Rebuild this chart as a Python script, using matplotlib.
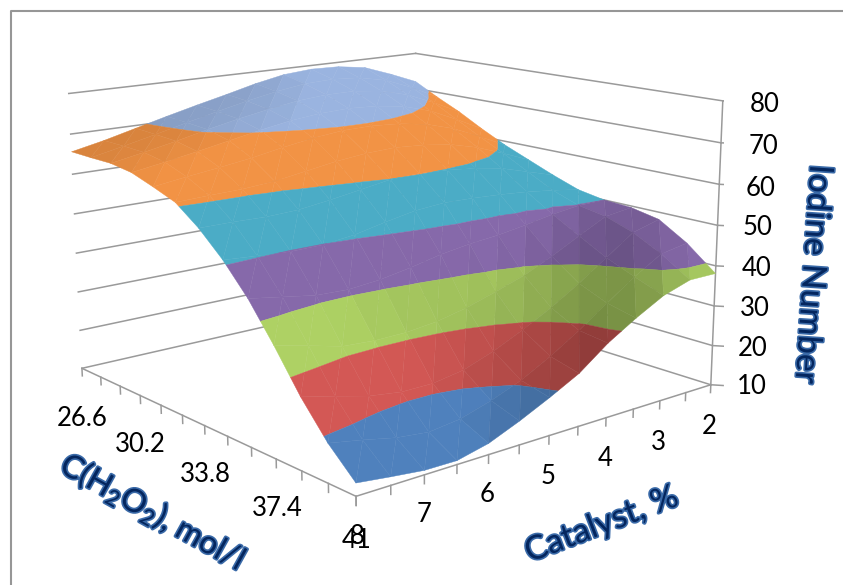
import numpy as np
import matplotlib
matplotlib.use('Agg')
import matplotlib.pyplot as plt
import matplotlib.patheffects as pe
from matplotlib.lines import Line2D
from mpl_toolkits.mplot3d.art3d import Poly3DCollection

plt.rcParams['font.family'] = ['Lato', 'DejaVu Sans']
plt.rcParams['mathtext.fontset'] = 'custom'
plt.rcParams['mathtext.rm'] = 'Lato'
plt.rcParams['mathtext.default'] = 'regular'

W, H = 843, 585

catalyst = [2, 2.5, 3, 3.5, 4, 4.5, 5, 5.5, 6, 6.5, 7, 7.5, 8]
c_h2o2 = [26.6, 27.8, 29.0, 30.2, 31.4, 32.6, 33.8, 35.0, 36.2, 37.4, 38.6, 39.8, 41.0]
# one row per catalyst value
iodine = [
    [72.0, 68.7, 65.7, 62.2, 59.0, 56.3, 53.6, 51.2, 50.0, 49.6, 48.2, 43.9, 38.1],
    [75.0, 72.3, 69.2, 65.8, 62.4, 59.2, 55.7, 52.3, 49.9, 48.7, 46.3, 42.7, 38.1],
    [77.7, 75.2, 72.3, 69.1, 65.6, 61.9, 57.8, 53.2, 49.0, 45.2, 41.5, 38.6, 35.9],
    [78.8, 76.8, 74.3, 71.3, 67.8, 63.8, 59.1, 53.8, 47.7, 41.6, 36.7, 33.8, 32.2],
    [79.0, 77.3, 75.2, 72.4, 69.0, 64.8, 59.8, 54.2, 46.6, 38.4, 32.4, 28.9, 28.0],
    [78.4, 77.0, 75.2, 72.8, 69.5, 65.3, 60.2, 54.4, 45.9, 36.0, 28.7, 24.5, 22.7],
    [76.9, 75.9, 74.6, 72.5, 69.4, 65.0, 59.9, 53.8, 44.8, 33.8, 25.4, 20.7, 19.0],
    [75.0, 74.4, 73.4, 71.7, 68.6, 64.2, 58.7, 52.4, 43.2, 32.2, 22.8, 17.9, 15.6],
    [73.2, 72.7, 72.0, 70.4, 67.4, 63.0, 57.5, 50.8, 41.9, 31.4, 21.6, 15.7, 12.6],
    [71.3, 70.9, 70.4, 68.9, 66.0, 61.8, 56.5, 49.9, 41.2, 31.3, 21.6, 14.8, 10.9],
    [69.3, 69.0, 68.6, 67.4, 64.9, 61.2, 56.2, 49.8, 41.5, 31.8, 22.7, 15.7, 11.0],
    [67.3, 67.2, 67.0, 66.0, 63.9, 61.0, 56.4, 50.3, 42.8, 33.8, 24.7, 17.4, 11.9],
    [65.6, 65.5, 65.5, 64.7, 62.8, 60.7, 56.4, 50.9, 44.1, 35.7, 26.6, 18.9, 12.9],
]
z_levels = [10, 20, 30, 40, 50, 60, 70, 80]
band_colors = ['#4f81bd', '#c0504d', '#9bbb59', '#8064a2', '#4bacc6', '#f79646', '#9ab4e0']
band_caps = [1.0, 1.1, 1.12, 1.05, 1.0, 0.98, 1.0]

z_ticks = [10, 20, 30, 40, 50, 60, 70, 80]
cat_ticks = [2, 3, 4, 5, 6, 7, 8]
c_ticks = ['26.6', '30.2', '33.8', '37.4', '41']


def clip_poly(poly, lo, hi):
    # cut a triangle to the part between two z levels
    for level, sign in ((lo, 1), (hi, -1)):
        out = []
        for i in range(len(poly)):
            a, b = poly[i], poly[(i + 1) % len(poly)]
            da, db = sign * (a[2] - level), sign * (b[2] - level)
            if da >= 0:
                out.append(a)
            if da * db < 0:
                out.append(a + (b - a) * da / (da - db))
        poly = out
        if not poly:
            break
    return poly


fig = plt.figure(figsize=(W / 100, H / 100), dpi=100)
fig.patch.set_facecolor('white')
ax = fig.add_subplot(projection='3d', computed_zorder=False)
ax.set_position([39.1 / W, -6.0 / H, 684.5 / W, 684.5 / H])
ax.set_xlim(2, 8)
ax.set_ylim(26.6, 41)
ax.set_zlim(10, 80)
ax.set_proj_type('persp', focal_length=0.4694)
ax.view_init(elev=13.7362, azim=50.3795, roll=0.2144)
ax.set_box_aspect((1.1307, 1.1331, 0.7145))
ax.set_axis_off()

grid_c = '#9a9a9a'
for z in z_ticks:
    ax.plot([8, 2], [26.6, 26.6], [z, z], color=grid_c, lw=1.1, zorder=1)
    ax.plot([2, 2], [26.6, 41], [z, z], color=grid_c, lw=1.1, zorder=1)
    ax.plot([2, 1.9], [41, 41.3], [z, z], color=grid_c, lw=1.1, zorder=1)
ax.plot([2, 2], [41, 41], [10, 80], color=grid_c, lw=1.1, zorder=1)
ax.plot([8, 8], [26.6, 41], [10, 10], color=grid_c, lw=1.1, zorder=1)
ax.plot([8, 2], [41, 41], [10, 10], color=grid_c, lw=1.1, zorder=1)
for k in c_h2o2:
    ax.plot([8, 8], [k, k], [10, 8], color=grid_c, lw=1.1, zorder=1)
for c in catalyst:
    ax.plot([c, c], [41, 41], [10, 8], color=grid_c, lw=1.1, zorder=1)

Z = np.array(iodine)
light = np.array([-0.6, 0.5, 0.62])
scale = np.array([1.1307 / 6, 1.1331 / 14.4, 0.7145 / 70])

# smooth shade from the slopes at the grid nodes, a little facet contrast on top
dz_cat, dz_c = np.gradient(Z * scale[2], np.array(catalyst) * scale[0], np.array(c_h2o2) * scale[1])
normals = np.dstack([-dz_cat, -dz_c, np.ones_like(Z)])
normals /= np.linalg.norm(normals, axis=2, keepdims=True)
node_shade = 0.5 + 0.75 * normals.dot(light)

polys, faces = [], []
for i in range(len(catalyst) - 1):
    for j in range(len(c_h2o2) - 1):
        idx = ((0, 0), (1, 0), (1, 1), (0, 1))
        p = [np.array([catalyst[i + a], c_h2o2[j + b], Z[i + a, j + b]]) for a, b in idx]
        sh = [node_shade[i + a, j + b] for a, b in idx]
        for tri, tri_sh in (([p[0], p[1], p[2]], sh[:3]), ([p[0], p[2], p[3]], [sh[0], sh[2], sh[3]])):
            n = np.cross((tri[1] - tri[0]) * scale, (tri[2] - tri[0]) * scale)
            n = n / np.linalg.norm(n)
            if n[2] < 0:
                n = -n
            shade = 0.75 * np.mean(tri_sh) + 0.25 * (0.5 + 0.75 * n.dot(light))
            for b in range(len(band_colors)):
                piece = clip_poly(tri, z_levels[b], z_levels[b + 1])
                if len(piece) >= 3:
                    polys.append(np.array(piece))
                    rgb = np.array(matplotlib.colors.to_rgb(band_colors[b])) * np.clip(shade, 0.66, band_caps[b])
                    faces.append(np.clip(rgb, 0, 1))

surf = Poly3DCollection(polys, facecolors=faces, edgecolors=faces, linewidths=0.3, zorder=2)
ax.add_collection3d(surf)

fig.add_artist(Line2D([11 / W, 11 / W, 1], [0, 1 - 11 / H, 1 - 11 / H], color='#969696', lw=1.5))

tick_fs = 18.5
z_pos = [(752, 387), (753, 348), (755, 309), (757, 269), (758, 228), (761, 188), (763, 147), (765, 105)]
for val, (x, y) in zip(z_ticks, z_pos):
    fig.text(x / W, 1 - y / H, str(val), fontsize=tick_fs, ha='center', va='center', color='black')
cat_pos = [(709, 426), (658, 442), (605, 458), (548, 477), (487, 495), (424, 515), (357, 536)]
for val, (x, y) in zip(cat_ticks, cat_pos):
    fig.text(x / W, 1 - y / H, str(val), fontsize=tick_fs, ha='center', va='center', color='black')
c_pos = [(82, 418), (140, 444), (205, 475), (277, 508), (357, 541)]
for val, (x, y) in zip(c_ticks, c_pos):
    fig.text(x / W, 1 - y / H, val, fontsize=tick_fs, ha='center', va='center', color='black')

glow = [pe.withStroke(linewidth=2.4, foreground='#3a6aa8')]
title_kw = dict(color='#04265e', ha='center', va='center', rotation_mode='anchor', path_effects=glow)
fig.text(812 / W, 1 - 274 / H, 'Iodine Number', rotation=-93.9, fontsize=24, **title_kw)
fig.text(153 / W, 1 - 512 / H, r'C(H$_2$O$_2$), mol/l', rotation=-29, fontsize=23, **title_kw)
fig.text(602 / W, 1 - 525 / H, 'Catalyst, %', rotation=21, fontsize=24, **title_kw)

fig.savefig('out.png', dpi=100)
